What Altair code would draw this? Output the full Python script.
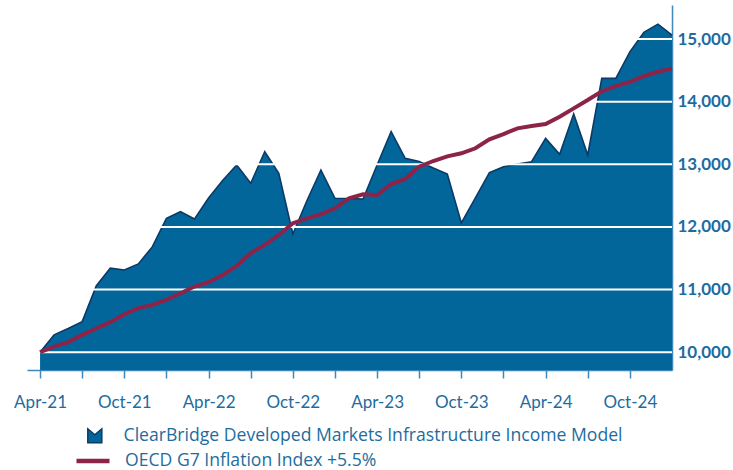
import json
import altair as alt
import pandas as pd

# ---- data ----
months = ["Apr-21", "May-21", "Jun-21", "Jul-21", "Aug-21", "Sep-21", "Oct-21", "Nov-21", "Dec-21",
          "Jan-22", "Feb-22", "Mar-22", "Apr-22", "May-22", "Jun-22", "Jul-22", "Aug-22", "Sep-22",
          "Oct-22", "Nov-22", "Dec-22", "Jan-23", "Feb-23", "Mar-23", "Apr-23", "May-23", "Jun-23",
          "Jul-23", "Aug-23", "Sep-23", "Oct-23", "Nov-23", "Dec-23", "Jan-24", "Feb-24", "Mar-24",
          "Apr-24", "May-24", "Jun-24", "Jul-24", "Aug-24", "Sep-24", "Oct-24", "Nov-24", "Dec-24",
          "Jan-25"]

model = [10000, 10276, 10377, 10488, 11058, 11341, 11313, 11409, 11685, 12138,
         12244, 12127, 12462, 12742, 12989, 12697, 13202, 12857, 11888, 12418,
         12909, 12458, 12455, 12447, 12990, 13521, 13096, 13046, 12941, 12846,
         12063, 12463, 12866, 12962, 13005, 13042, 13415, 13160, 13803, 13149,
         14373, 14373, 14797, 15107, 15240, 15064]

oecd = [10000, 10089, 10160, 10276, 10378, 10479, 10606, 10702, 10755, 10835,
        10942, 11048, 11117, 11234, 11377, 11580, 11713, 11872, 12058, 12138,
        12202, 12298, 12458, 12522, 12510, 12686, 12766, 12963, 13053, 13128,
        13176, 13256, 13399, 13484, 13575, 13612, 13644, 13760, 13894, 14027,
        14168, 14250, 14318, 14409, 14478, 14532]

y_ticks = [10000, 11000, 12000, 13000, 14000, 15000]
x_tick_months = list(range(0, 43, 3))

series_model = "ClearBridge Developed Markets Infrastructure Income Model"
series_oecd = "OECD G7 Inflation Index +5.5%"

# ---- styling ----
FILL = "#03669B"
OUTLINE = "#0B3A66"
RED = "#8C2449"
TXT = "#1E6C9E"
AXIS = "#3E88BC"
FONT = "Lato"
LEG_FONT = "Open Sans"
LEG_SIZE = 17.6

Y_MIN, Y_MAX = 9715, 15545
X_MIN, X_MAX = -0.93, 45

df = pd.DataFrame({"m": list(range(len(months))), "label": months,
                   "model": model, "oecd": oecd})
df["s_model"] = series_model
df["s_oecd"] = series_oecd
grid_df = pd.DataFrame({"v": y_ticks})

label_arr = json.dumps(months).replace('"', "'")
x_scale = alt.Scale(domain=[X_MIN, X_MAX], nice=False, zero=False)
y_scale = alt.Scale(domain=[Y_MIN, Y_MAX], nice=False, zero=False)

x_axis = alt.Axis(values=x_tick_months,
                  labelExpr=f"datum.value % 6 == 0 ? {label_arr}[datum.value] : ''",
                  title=None, grid=False, tickSize=8, tickColor=AXIS, tickWidth=1.5,
                  domainColor=AXIS, domainWidth=1.5, labelColor=TXT, labelFont=FONT,
                  labelFontSize=17, labelPadding=16, labelFlush=False, labelOverlap=False)
y_axis = alt.Axis(orient="right", values=y_ticks, labelExpr="format(datum.value, ',')",
                  title=None, grid=False,
                  ticks=False, domainColor=AXIS, domainWidth=1.5, labelColor=TXT,
                  labelFont=FONT, labelFontSize=17, labelFontWeight="bold", labelPadding=5)

base = alt.Chart(df)

area = base.mark_area(opacity=1).encode(
    x=alt.X("m:Q", scale=x_scale, axis=x_axis),
    y=alt.Y("model:Q", scale=y_scale, axis=y_axis),
    y2=alt.datum(Y_MIN),
    fill=alt.Fill("s_model:N", scale=alt.Scale(domain=[series_model], range=[FILL]),
                  legend=alt.Legend(orient="none", legendX=59, legendY=422, title=None,
                                    symbolType="M-1,1 L-1,-1 L0,-0.15 L1,-1 L1,1 Z",
                                    symbolSize=196, symbolStrokeColor=OUTLINE,
                                    symbolStrokeWidth=1.5, symbolFillColor="#0E4E82",
                                    labelOffset=20, labelFont=LEG_FONT, labelFontSize=LEG_SIZE,
                                    labelColor=TXT, padding=0, labelLimit=0)),
)

outline = base.mark_line(color=OUTLINE, strokeWidth=1.6).encode(
    x=alt.X("m:Q", scale=x_scale), y=alt.Y("model:Q", scale=y_scale))

grid = alt.Chart(grid_df).mark_rule(color="white", strokeWidth=2).encode(
    y=alt.Y("v:Q", scale=y_scale))

line = base.mark_line(strokeWidth=4).encode(
    x=alt.X("m:Q", scale=x_scale), y=alt.Y("oecd:Q", scale=y_scale),
    stroke=alt.Stroke("s_oecd:N", scale=alt.Scale(domain=[series_oecd], range=[RED]),
                      legend=alt.Legend(orient="none", legendX=47, legendY=437, title=None,
                                        symbolType="stroke", symbolSize=1089,
                                        symbolStrokeWidth=4.5, labelOffset=13,
                                        labelFont=LEG_FONT, labelFontSize=LEG_SIZE,
                                        labelColor=TXT, padding=0, labelLimit=0)),
)

chart = alt.layer(area, outline, grid, line).resolve_scale(
    fill="independent", stroke="independent"
).properties(
    width=645, height=365,
    autosize=alt.AutoSizeParams(type="none"),
    padding={"left": 27, "top": 5, "right": 61, "bottom": 100},
).configure_view(stroke=None)

chart.save("out.html", embed_options={"renderer": "svg", "actions": False})
